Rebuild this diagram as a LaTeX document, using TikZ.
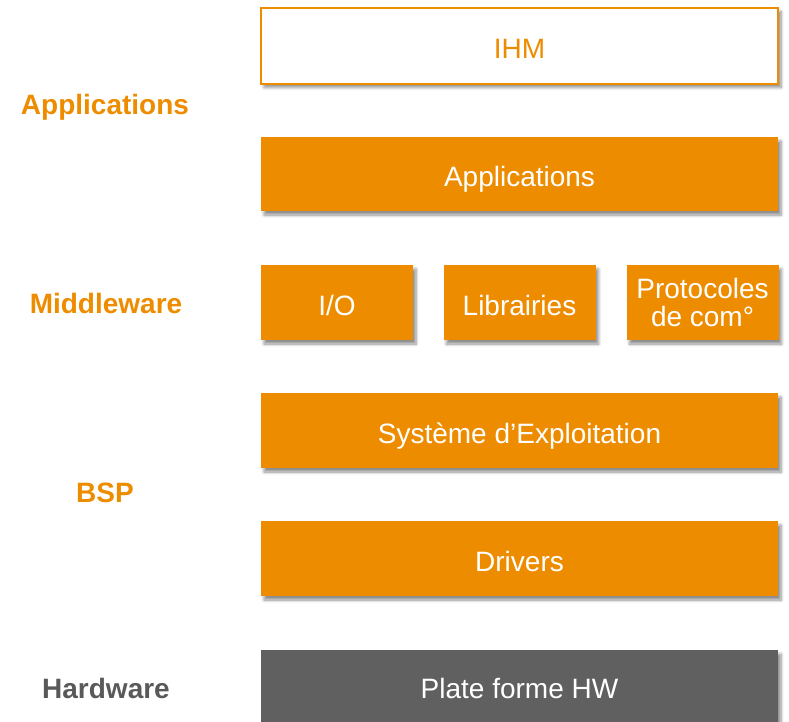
\documentclass[tikz,border=0pt]{standalone}
\usepackage{fontspec}
\setmainfont{Liberation Sans}
\usetikzlibrary{shadows.blur}
\definecolor{orng}{RGB}{238,140,0}
\definecolor{hwgray}{RGB}{96,96,96}
\definecolor{lblgray}{RGB}{89,89,89}
\begin{document}
\begin{tikzpicture}[x=1pt,y=-1pt,
  shad/.style={blur shadow={shadow xshift=3pt,shadow yshift=-4pt,shadow blur steps=6,shadow blur radius=3pt,shadow opacity=45}},
  layer/.style={shad,fill=orng,text=white,minimum height=75pt,inner sep=0pt,font=\fontsize{28}{30}\selectfont,align=center},
  oneline/.style={text height=25pt,text depth=0pt},
  wide/.style={layer,oneline,minimum width=517pt},
  small/.style={layer,minimum width=152pt},
  lbl/.style={text=orng,font=\fontsize{28}{30}\selectfont\bfseries,inner sep=0pt}]
\useasboundingbox (0,0) rectangle (789,721);
\node[wide,fill=white,draw=orng,line width=2pt,text=orng,minimum height=76pt] (ihm) at (519.5,45.5) {IHM};
\node[wide,minimum height=74pt] (apps) at (519.5,174) {Applications};
\node[small,oneline] (io) at (337,302.5) {I/O};
\node[small,oneline] (lib) at (519.5,302.5) {Librairies};
\node[small] (proto) at (702.5,302.5) {Protocoles\\[-2pt]de com°};
\node[wide] (os) at (519.5,430.5) {Système d’Exploitation};
\node[wide] (drv) at (519.5,558.5) {Drivers};
\node[wide,fill=hwgray,minimum height=72pt] (hw) at (519.5,686) {Plate forme HW};
\node[lbl] (lapp) at (105,107) {Applications};
\node[lbl] (lmid) at (106,303) {Middleware};
\node[lbl] (lbsp) at (105,493) {BSP};
\node[lbl,text=lblgray] (lhw) at (106,688) {Hardware};
\end{tikzpicture}
\end{document}
